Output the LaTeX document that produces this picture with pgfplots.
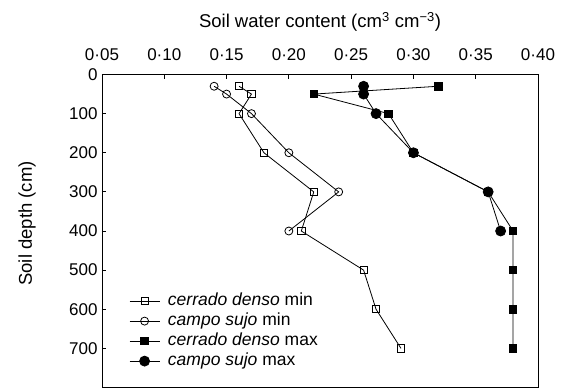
\documentclass[border=0pt]{standalone}
\usepackage{pgfplots}
\pgfplotsset{compat=1.18}
\usepackage{fontspec}
\setmainfont{Liberation Sans}
\newcommand{\fs}{\fontsize{17}{20}\selectfont}
\newcommand{\fl}{\fontsize{18.5}{22}\selectfont}
\newcommand{\fg}{\fontsize{17.5}{21}\selectfont}
\begin{document}
\begin{tikzpicture}
\begin{axis}[
  scale only axis, width=436pt, height=313pt,
  at={(0pt,0pt)}, anchor=south west,
  font=\fs,
  xmin=0.05, xmax=0.40, ymin=0, ymax=800, y dir=reverse,
  xtick={0.05,0.10,0.15,0.20,0.25,0.30,0.35,0.40},
  xticklabels={0·05,0·10,0·15,0·20,0·25,0·30,0·35,0·40},
  xtick pos=right, xticklabel pos=right,
  ytick={0,100,200,300,400,500,600,700},
  ytick pos=left,
  tick align=inside, major tick length=4pt,
  tick style={black, line width=0.8pt},
  axis line style={line width=0.8pt},
  /pgf/number format/assume math mode=true,
  tick label style={font=\fs},
  yticklabel style={xshift=-1pt},
  xticklabel style={anchor=base, yshift=14.5pt},
  xlabel={Soil water content (cm\textsuperscript{3} cm\textsuperscript{−3})},
  xlabel style={at={(axis description cs:0.5,1)}, anchor=base, yshift=47pt, font=\fl},
  ylabel={Soil depth (cm)},
  ylabel style={at={(axis description cs:0,0.524)}, anchor=base, yshift=70pt, font=\fl},
  legend style={at={(axis description cs:0.055,0.315)}, anchor=north west, draw=none, fill=none, font=\fg,
    nodes={text height=12pt, text depth=4pt, inner ysep=2pt}},
  legend cell align=left,
  legend image code/.code={\draw[#1,mark repeat=2,mark phase=2] plot coordinates {(0pt,0pt)(15pt,0pt)(30pt,0pt)}; \path (36pt,0pt);},
]
\addplot[black, line width=0.8pt, mark=square, mark size=3.6pt, mark options={solid, fill=white, line width=0.8pt}] coordinates {
(0.16,30) (0.17,50) (0.16,100) (0.18,200) (0.22,300) (0.21,400) (0.26,500) (0.27,600) (0.29,700)};
\addlegendentry{\textit{cerrado denso} min}
\addplot[black, line width=0.8pt, mark=o, mark size=4pt, mark options={solid, fill=white, line width=0.8pt}] coordinates {
(0.14,30) (0.15,50) (0.17,100) (0.20,200) (0.24,300) (0.20,400)};
\addlegendentry{\textit{campo sujo} min}
\addplot[black, line width=0.8pt, mark=square*, mark size=3.7pt, mark options={solid, fill=black}] coordinates {
(0.32,30) (0.22,50) (0.28,100) (0.30,200) (0.36,300) (0.38,400) (0.38,500) (0.38,600) (0.38,700)};
\addlegendentry{\textit{cerrado denso} max}
\addplot[black, line width=0.8pt, mark=*, mark size=5pt, mark options={solid, fill=black}] coordinates {
(0.26,30) (0.26,50) (0.27,100) (0.30,200) (0.36,300) (0.37,400)};
\addlegendentry{\textit{campo sujo} max}
\end{axis}
\pgfresetboundingbox
\path (-102pt,-1.5pt) rectangle (472pt,387.5pt);
\end{tikzpicture}
\end{document}
